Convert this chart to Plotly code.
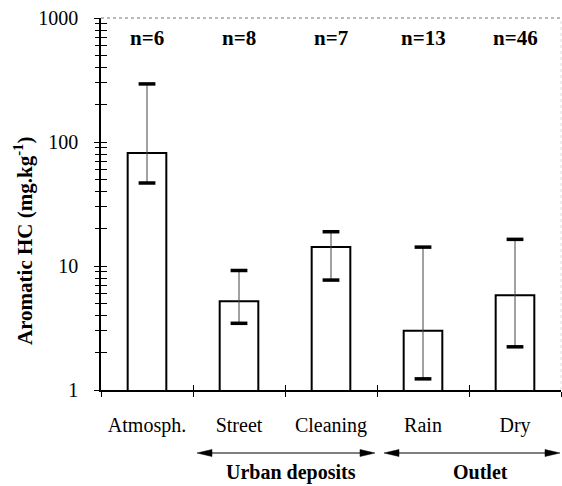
import plotly.graph_objects as go

categories = ["Atmosph.", "Street", "Cleaning", "Rain", "Dry"]
means = [81.5, 5.2, 14.2, 3.0, 5.8]
upper = [294, 9.2, 18.9, 14.2, 16.4]
lower = [46.7, 3.45, 7.7, 1.23, 2.23]
n_labels = ["n=6", "n=8", "n=7", "n=13", "n=46"]
group_labels = ["Urban deposits", "Outlet"]
y_tick_vals = [1, 10, 100, 1000]
y_tick_text = ["1", "10", "100", "1000"]
minor_vals = [m * d for d in (1, 10, 100) for m in range(2, 10)]

W, H = 562, 486
ML, MR, MT, MB = 101, 1, 18, 96
PW, PH = W - ML - MR, H - MT - MB


def px_x(p):
    return (p - ML) / PW


def px_y(p):
    return (H - MB - p) / PH


FONT = "Liberation Serif"

fig = go.Figure()
fig.add_trace(go.Bar(
    x=categories, y=means, width=0.42,
    marker=dict(color="white", line=dict(color="black", width=2)),
    error_y=dict(type="data", symmetric=False,
                 array=[u - m for u, m in zip(upper, means)],
                 arrayminus=[m - l for m, l in zip(means, lower)],
                 color="#444444", thickness=1, width=0),
    showlegend=False,
))
fig.add_trace(go.Scatter(
    x=categories + categories, y=upper + lower, mode="markers",
    marker=dict(symbol="line-ew", size=12, line=dict(color="black", width=3.5)),
    showlegend=False, hoverinfo="skip",
))

fig.update_layout(
    width=W, height=H,
    margin=dict(l=ML, r=MR, t=MT, b=MB),
    paper_bgcolor="white", plot_bgcolor="white",
    font=dict(family=FONT, color="black", size=20),
    xaxis=dict(
        type="category", tickson="boundaries", ticks="outside", ticklen=5,
        tickcolor="black", tickwidth=1, showline=True, linecolor="black",
        linewidth=1.5, showgrid=False, tickfont=dict(size=20, family=FONT),
        ticklabelstandoff=16,
    ),
    xaxis2=dict(
        overlaying="x", anchor="y", range=[-0.5, 4.5], tickvals=[0.5, 1.5, 2.5, 3.5],
        ticks="inside", ticklen=5, tickcolor="black", tickwidth=1,
        showticklabels=False, showgrid=False, showline=False, zeroline=False,
        side="bottom",
    ),
    yaxis=dict(
        type="log", range=[0, 3], tickvals=y_tick_vals, ticktext=y_tick_text,
        ticks="outside", ticklen=5, tickcolor="black", tickwidth=1,
        showline=True, linecolor="black", linewidth=1.5, showgrid=False,
        zeroline=False, tickfont=dict(size=20, family=FONT),
        ticklabelstandoff=12,
        minor=dict(tickvals=minor_vals, ticks="outside", ticklen=4,
                   tickcolor="black", tickwidth=1, showgrid=False),
    ),
    yaxis2=dict(
        type="log", range=[0, 3], overlaying="y", anchor="x", side="left",
        tickvals=y_tick_vals, ticks="inside", ticklen=6, tickcolor="black",
        tickwidth=1, showticklabels=False, showgrid=False, showline=False,
        zeroline=False,
        minor=dict(tickvals=minor_vals, ticks="inside", ticklen=6,
                   tickcolor="black", tickwidth=1, showgrid=False),
    ),
)

# invisible trace so the overlay axes are drawn
fig.add_trace(go.Scatter(x=[0], y=[1], xaxis="x2", yaxis="y2", mode="markers",
                         marker=dict(opacity=0), showlegend=False, hoverinfo="skip"))

# frame: top and right faint lines
fig.add_shape(type="line", xref="paper", yref="paper", x0=0, x1=1, y0=1, y1=1,
              line=dict(color="#777777", width=1, dash="dot"))
fig.add_shape(type="line", xref="paper", yref="paper", x0=1, x1=1, y0=0, y1=1,
              line=dict(color="#dddddd", width=1, dash="dot"))

# n labels
for c, t in zip(categories, n_labels):
    fig.add_annotation(x=c, y=px_y(38), xref="x", yref="paper", text="<b>%s</b>" % t,
                       showarrow=False, xanchor="center", yanchor="middle",
                       font=dict(size=21, family=FONT))

# y title
fig.add_annotation(x=px_x(23), y=px_y(241), xref="paper", yref="paper",
                   text="<b>Aromatic HC (mg.kg<sup>-1</sup>)</b>", textangle=-90,
                   showarrow=False, xanchor="center", yanchor="middle",
                   font=dict(size=21, family=FONT))

# group arrows (line + filled triangular heads)
ay_px = 453
head_len, head_half = 15, 3.5
for x0, x1 in ((197, 375), (384, 560)):
    fig.add_shape(type="line", xref="paper", yref="paper",
                  x0=px_x(x0 + 4), x1=px_x(x1 - 4), y0=px_y(ay_px), y1=px_y(ay_px),
                  line=dict(color="black", width=1.2))
    for tip, base in ((x0, x0 + head_len), (x1, x1 - head_len)):
        path = "M %f %f L %f %f L %f %f Z" % (
            px_x(tip), px_y(ay_px),
            px_x(base), px_y(ay_px - head_half),
            px_x(base), px_y(ay_px + head_half))
        fig.add_shape(type="path", xref="paper", yref="paper", path=path,
                      fillcolor="black", line=dict(color="black", width=0.5))

for label, cx in zip(group_labels, (291, 480)):
    fig.add_annotation(x=px_x(cx), y=px_y(472), xref="paper", yref="paper",
                       text="<b>%s</b>" % label, showarrow=False,
                       xanchor="center", yanchor="middle",
                       font=dict(size=20, family=FONT))

fig.write_html("out.html", config={"displayModeBar": False},
               post_script="document.body.style.margin='0';")
